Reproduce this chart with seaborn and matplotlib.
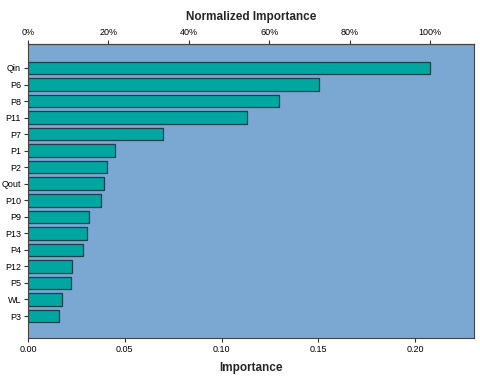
import pandas as pd
import matplotlib.pyplot as plt
import seaborn as sns
from matplotlib.ticker import FuncFormatter

features = ["Qin", "P6", "P8", "P11", "P7", "P1", "P2", "Qout",
            "P10", "P9", "P13", "P4", "P12", "P5", "WL", "P3"]
importance = [0.2077, 0.1503, 0.1297, 0.1130, 0.0697, 0.0448, 0.0406, 0.0394,
              0.0375, 0.0313, 0.0306, 0.0286, 0.0227, 0.0224, 0.0174, 0.0158]

df = pd.DataFrame({"feature": features, "importance": importance})
max_imp = max(importance)

sns.set_style("white")
plt.rcParams['font.family'] = ['Liberation Sans', 'DejaVu Sans']

fig = plt.figure(figsize=(4.8, 3.84), dpi=100)
ax = fig.add_axes([0.0583, 0.1198, 0.9292, 0.7656])
ax.set_facecolor("#7BA7D3")

sns.barplot(data=df, x="importance", y="feature", orient="h", color="#00A6A0",
            saturation=1, width=0.76, edgecolor="#1F3F4A", linewidth=0.9, ax=ax)

ax.set_xlim(0, 0.2304)
ax.set_ylim(16.33, -1.45)
ax.set_xticks([0, 0.05, 0.10, 0.15, 0.20])
ax.xaxis.set_major_formatter(FuncFormatter(lambda v, p: f"{v:.2f}"))
ax.tick_params(axis="both", labelsize=6.5, length=3, width=0.8, colors="#333333",
               labelcolor="black", pad=2, direction="out", left=True, bottom=True)
ax.set_xlabel("Importance", fontsize=8.5, fontweight="bold", labelpad=6)
ax.set_ylabel("")
for s in ax.spines.values():
    s.set_color("#444444")
    s.set_linewidth(0.8)

top = ax.secondary_xaxis("top", functions=(lambda x: x / max_imp * 100,
                                            lambda p: p * max_imp / 100))
top.set_xticks([0, 20, 40, 60, 80, 100])
top.xaxis.set_major_formatter(FuncFormatter(lambda v, p: f"{v:.0f}%"))
top.tick_params(labelsize=6.5, length=3, width=0.8, pad=2, colors="#333333",
                labelcolor="black")
top.set_xlabel("Normalized Importance", fontsize=8.5, fontweight="bold", labelpad=6)

fig.savefig("out.png", dpi=100)
